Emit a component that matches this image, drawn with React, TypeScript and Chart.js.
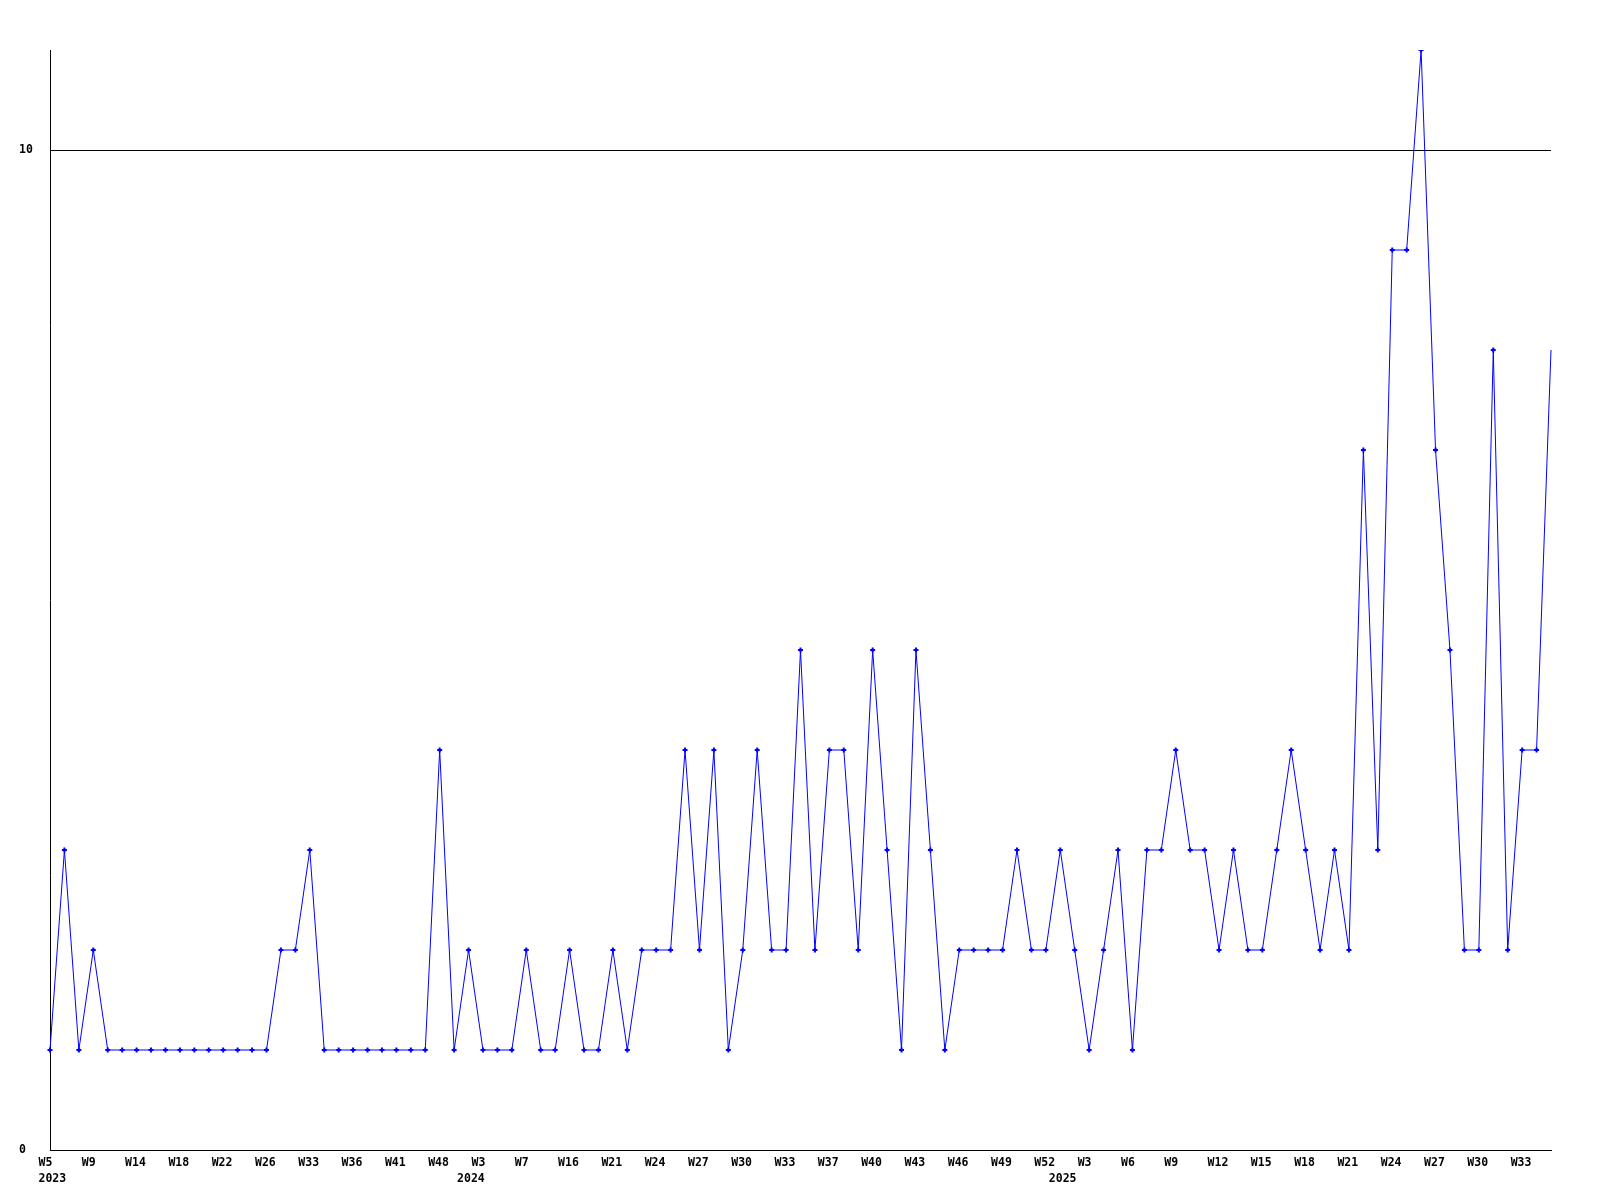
import React, { useEffect, useRef } from "react";
import { Chart, registerables } from "chart.js";

Chart.register(...registerables);

const values: number[] = [
  1, 3, 1, 2,
  1, 1, 1, 1, 1, 1, 1, 1, 1, 1, 1, 1,
  2, 2, 3,
  1, 1, 1, 1, 1, 1, 1, 1,
  4,
  1, 2, 1, 1, 1, 2, 1, 1, 2, 1, 1, 2, 1, 2, 2, 2,
  4, 2, 4, 1, 2, 4, 2, 2, 5, 2, 4, 4, 2, 5, 3, 1,
  5, 3, 1, 2, 2, 2, 2, 3, 2, 2, 3, 2, 1, 2, 3, 1,
  3, 3, 4, 3, 3, 2, 3, 2, 2, 3, 4, 3, 2, 3, 2,
  7, 3, 9, 9, 11, 7, 5, 2, 2, 8, 2, 4, 4, 8,
];

// one week label for every third point
const weekLabels: string[] = [
  "W5", "W9", "W14", "W18", "W22", "W26", "W33", "W36", "W41", "W48",
  "W3", "W7", "W16", "W21", "W24", "W27", "W30", "W33", "W37", "W40", "W43", "W46", "W49", "W52",
  "W3", "W6", "W9", "W12", "W15", "W18", "W21", "W24", "W27", "W30", "W33",
];
const labelEvery = 3;

const yearLabels: string[] = ["2023", "2024", "2025"];
const yearStartIndex: number[] = [0, 29, 70];

const yTicks: number[] = [0, 10];
const yMax = 11;

const FONT = { family: "'DejaVu Sans Mono', monospace", size: 11.5, weight: "bold" as const, lineHeight: "15.5px" };

export default function App() {
  const ref = useRef<HTMLCanvasElement | null>(null);

  useEffect(() => {
    document.body.style.margin = "0";
    const canvas = ref.current;
    if (!canvas) return;
    const categories = values.map((_, i) => String(i));
    const chart = new Chart(canvas, {
      type: "line",
      data: {
        labels: categories,
        datasets: [
          {
            data: values,
            borderColor: "#0000ff",
            backgroundColor: "#0000ff",
            borderWidth: 1,
            pointStyle: "cross",
            pointRadius: values.map((_, i) => (i === values.length - 1 ? 0 : 2.5)),
            pointBorderWidth: 2,
            pointBorderColor: "#0000ff",
            tension: 0,
            fill: false,
          },
        ],
      },
      options: {
        animation: false,
        responsive: false,
        maintainAspectRatio: false,
        layout: { padding: { left: 19, top: 50, right: 49, bottom: 0 } },
        plugins: { legend: { display: false }, tooltip: { enabled: false }, title: { display: false } },
        scales: {
          x: {
            type: "category",
            offset: false,
            grid: { display: false, drawTicks: false },
            border: { display: true, color: "#000000", width: 1 },
            afterFit: (scale: any) => {
              scale.height = 50;
            },
            ticks: {
              autoSkip: false,
              maxRotation: 0,
              minRotation: 0,
              align: "start",
              labelOffset: -11.5,
              padding: 5.5,
              color: "#000000",
              font: FONT,
              callback: (_v: any, i: number) => {
                const week = i % labelEvery === 0 ? weekLabels[i / labelEvery] ?? "" : "";
                const yi = yearStartIndex.indexOf(i);
                if (yi >= 0) return [week, yearLabels[yi]];
                return week === "" ? null : week;
              },
            },
          },
          y: {
            type: "linear",
            min: 0,
            max: yMax,
            afterBuildTicks: (scale: any) => {
              scale.ticks = yTicks.map((v) => ({ value: v }));
            },
            afterFit: (scale: any) => {
              scale.width = 31;
            },
            grid: { display: true, color: "#000000", lineWidth: 1, drawTicks: false },
            border: { display: true, color: "#000000", width: 1 },
            ticks: {
              crossAlign: "far",
              padding: 0,
              color: "#000000",
              font: FONT,
              callback: (v: any) => String(v),
            },
          },
        },
      },
    });
    return () => chart.destroy();
  }, []);

  return (
    <div style={{ width: 1600, height: 1200, background: "#ffffff" }}>
      <canvas ref={ref} width={1600} height={1200} style={{ display: "block", width: 1600, height: 1200 }} />
    </div>
  );
}
